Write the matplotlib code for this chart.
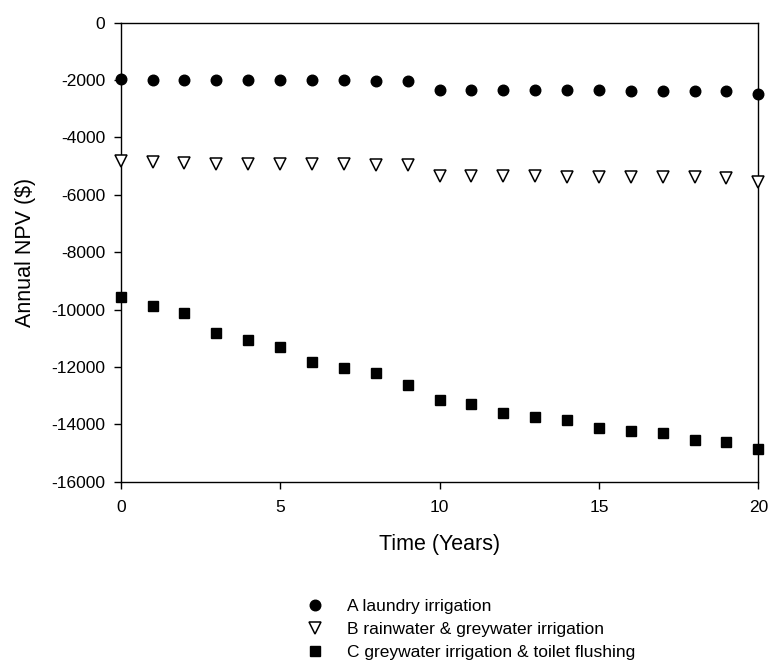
import matplotlib
matplotlib.use("Agg")
import matplotlib.pyplot as plt
import numpy as np

years = list(range(0, 21))
series_a = [-1980, -1985, -1990, -1995, -2000, -2005, -2010, -2015, -2020, -2030,
            -2350, -2352, -2355, -2357, -2360, -2362, -2365, -2367, -2370, -2372, -2490]
series_b = [-4830, -4870, -4900, -4910, -4920, -4930, -4935, -4940, -4950, -4960,
            -5340, -5350, -5355, -5360, -5365, -5370, -5375, -5380, -5390, -5400, -5570]
series_c = [-9550, -9860, -10120, -10830, -11060, -11290, -11840, -12030, -12200, -12640,
            -13150, -13280, -13620, -13750, -13850, -14130, -14230, -14310, -14540, -14610, -14870]
labels = ["A laundry irrigation",
          "B rainwater & greywater irrigation",
          "C greywater irrigation & toilet flushing"]
xticks = [0, 5, 10, 15, 20]
yticks = list(range(-16000, 1, 2000))

plt.rcParams['font.family'] = ['Liberation Sans', 'DejaVu Sans']
plt.rcParams['axes.unicode_minus'] = False

fig = plt.figure(figsize=(7.7, 6.61), dpi=100)
ax = fig.add_axes([0.1568, 0.2713, 0.828, 0.6944])

ax.plot(years, series_a, linestyle='none', marker='o', markersize=7.6,
        color='black', label=labels[0], clip_on=False, zorder=3)
ax.plot(years, series_b, linestyle='none', marker='v', markersize=8,
        markerfacecolor='white', markeredgecolor='black', markeredgewidth=1.1,
        label=labels[1], clip_on=False, zorder=3)
ax.plot(years, series_c, linestyle='none', marker='s', markersize=7.6,
        color='black', label=labels[2], clip_on=False, zorder=3)

ax.set_xlim(0, 20)
ax.set_ylim(-16000, 0)
ax.set_xticks(xticks)
ax.set_yticks(yticks)
ax.tick_params(direction='out', length=5, width=1, labelsize=12.5, colors='black')
ax.tick_params(axis='x', pad=8)
ax.tick_params(axis='y', pad=6)
for s in ax.spines.values():
    s.set_linewidth(1)

ax.set_xlabel("Time (Years)", fontsize=15.5, labelpad=14)
ax.set_ylabel("Annual NPV ($)", fontsize=15.5, labelpad=11)

fig.legend(loc='upper left', bbox_to_anchor=(0.3865, 0.094), frameon=False,
           fontsize=12.5, borderpad=0, handletextpad=0.84, labelspacing=0.45,
           borderaxespad=0, handlelength=2)

fig.savefig("out.png", dpi=100)
